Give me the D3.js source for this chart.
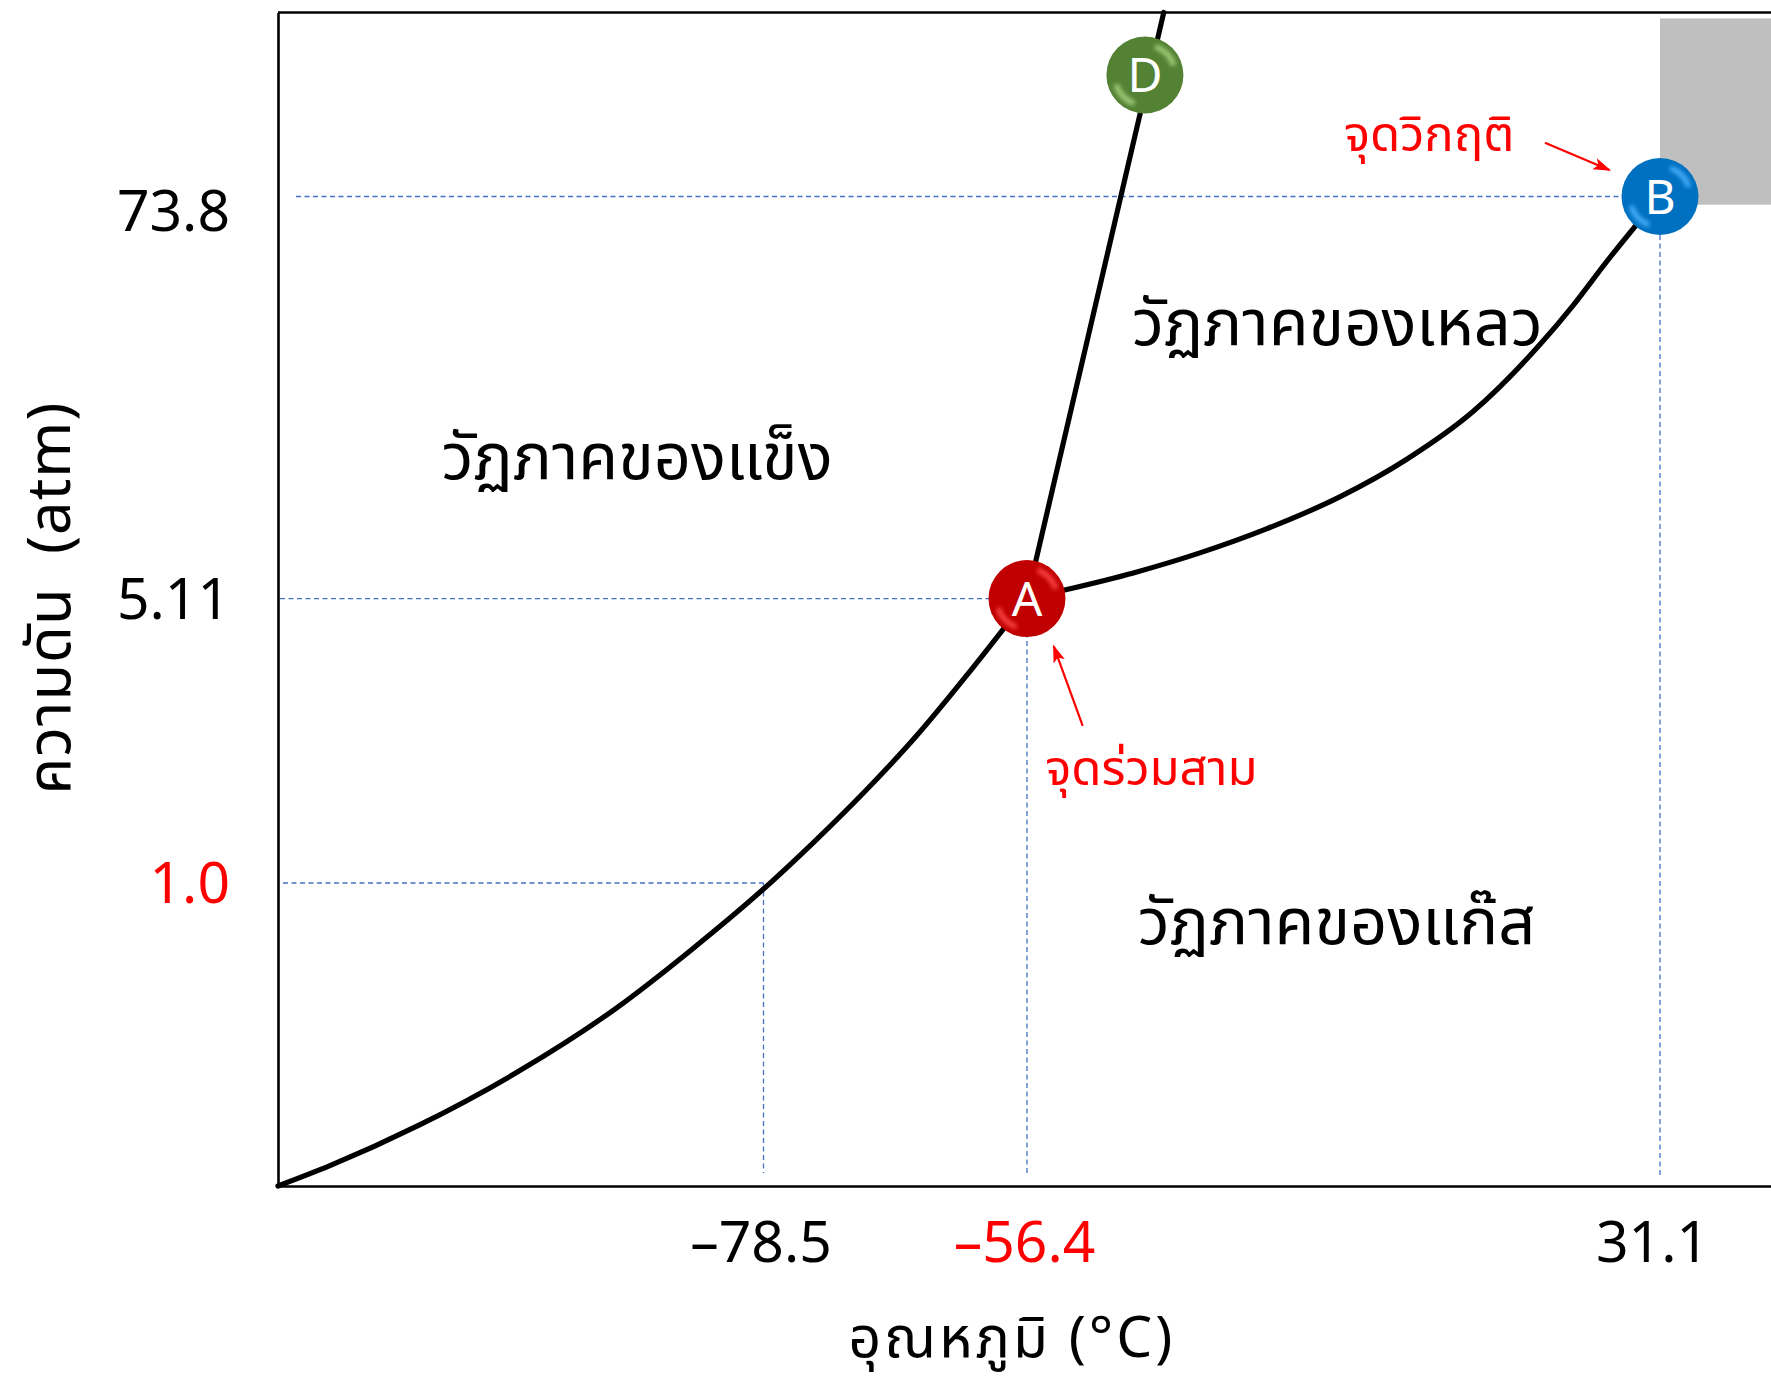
<!DOCTYPE html>
<html><head><meta charset="utf-8">
<script src="https://cdn.jsdelivr.net/npm/d3@7"></script>
<style>
body{margin:0;background:#fff}
svg{display:block}
text{font-family:"Noto Sans Thai","Noto Sans",sans-serif}
</style>
</head><body>
<svg id="chart" width="1771" height="1382"></svg>
<script>
// ---------- data ----------
const tempBreaks = [-100, -78.5, -56.4, 31.1, 46.5];
const pressBreaks = [0, 1.0, 5.11, 73.8, 105];
const tempTicks = [-78.5, -56.4, 31.1];
const tempTickLabels = ["–78.5", "–56.4", "31.1"];
const pressTicks = [1.0, 5.11, 73.8];
const pressTickLabels = ["1.0", "5.11", "73.8"];
const sublimationCurve = [[-100,0],[-97.7,0.067],[-93.8,0.199],[-89.4,0.376],[-85.0,0.588],[-81.7,0.779],[-78.5,0.98],[-74.1,1.62],[-69.9,2.34],[-65.7,3.12],[-61.6,3.97],[-56.4,5.11]];
const vaporCurve = [[-56.4,5.11],[-51.2,6.58],[-41.7,9.50],[-32.5,12.92],[-23.3,17.02],[-13.1,22.53],[-3.9,28.92],[5.3,37.11],[14.5,48.50],[19.1,55.21],[23.7,62.63],[31.1,73.8]];
const fusionLine = [[-56.4,5.11],[-37.5,105]];
const pointNames = ["A", "B", "D"];
const pointTemps = [-56.4, 31.1, -40.1];
const pointPress = [5.11, 73.8, 94.4];
const phaseNames = ["วัฏภาคของแข็ง", "วัฏภาคของเหลว", "วัฏภาคของแก๊ส"];
const phaseTemps = [-84.1, -13.5, -13.6];
const phasePress = [25.5, 48.4, 0.80];
const noteNames = ["จุดวิกฤติ", "จุดร่วมสาม"];
const noteTemps = [-0.8, -39.2];
const notePress = [81.45, 2.42];
const noteArrowFrom = [[15.2, 82.9], [-48.7, 3.27]];
const noteArrowTo = [[24.1, 78.3], [-52.7, 4.42]];
const superRegionT = [31.1, 46.5];
const superRegionP = [72.4, 104];
const xTitle = "อุณหภูมิ (°C)";
const yTitle = "ความดัน\u00a0\u00a0(atm)";

// ---------- layout ----------
const svg = d3.select("#chart");
const x = d3.scaleLinear().domain(tempBreaks).range([278, 763.5, 1027, 1660, 1771]);
const y = d3.scaleLinear().domain(pressBreaks).range([1186, 883, 598.6, 196.5, 12.5]);
const R = 38.5;
const pointColors = {A:"#c00000", B:"#0070c0", D:"#548235"};
const pointLight = {A:"#ff4a4a", B:"#4db3ff", D:"#a6d67e"};
const red = "#ff0000", guide = "#4472c4";

const defs = svg.append("defs");
defs.append("filter").attr("id","blur").append("feGaussianBlur").attr("stdDeviation",2.2);
defs.append("marker").attr("id","arr").attr("markerUnits","userSpaceOnUse")
  .attr("markerWidth",18).attr("markerHeight",14).attr("refX",16).attr("refY",7).attr("orient","auto")
  .append("path").attr("d","M0,1 L18,7 L0,13 L4,7 Z").attr("fill",red);

// supercritical grey block
svg.append("rect")
  .attr("x", x(superRegionT[0])).attr("y", y(superRegionP[1]))
  .attr("width", x(superRegionT[1]) - x(superRegionT[0]))
  .attr("height", y(superRegionP[0]) - y(superRegionP[1]))
  .attr("fill", "#bfbfbf");

// dashed guides
const g = svg.append("g").attr("stroke", guide).attr("stroke-width", 1.3).attr("stroke-dasharray", "5,3.5");
g.append("line").attr("x1", 296).attr("x2", x(31.1) - R).attr("y1", y(73.8)).attr("y2", y(73.8));
g.append("line").attr("x1", 280).attr("x2", x(-56.4)).attr("y1", y(5.11)).attr("y2", y(5.11));
g.append("line").attr("x1", 283).attr("x2", x(-78.5)).attr("y1", y(1.0)).attr("y2", y(1.0));
g.append("line").attr("x1", x(-78.5)).attr("x2", x(-78.5)).attr("y1", y(1.0)).attr("y2", 1173);
g.append("line").attr("x1", x(-56.4)).attr("x2", x(-56.4)).attr("y1", y(5.11)).attr("y2", 1175);
g.append("line").attr("x1", x(31.1)).attr("x2", x(31.1)).attr("y1", y(73.8) + R).attr("y2", 1175);

// axes
const tickFont = 57;
const xAxis = svg.append("g").attr("transform", "translate(0,1186)")
  .call(d3.axisBottom(x).tickValues(tempTicks).tickSize(0).tickSizeOuter(0).tickPadding(0)
    .tickFormat((d, i) => tempTickLabels[i]));
xAxis.select(".domain").attr("stroke", "#000").attr("stroke-width", 2.6);
xAxis.selectAll("text").attr("y", 76).attr("dy", 0).attr("font-size", tickFont)
  .attr("font-family", "'Noto Sans',sans-serif")
  .attr("fill", (d, i) => tempTickLabels[i] === "–56.4" ? red : "#000")
  .attr("dx", (d) => d === 31.1 ? -8 : -3);

const yAxis = svg.append("g").attr("transform", "translate(278,0)")
  .call(d3.axisLeft(y).tickValues(pressTicks).tickSize(0).tickSizeOuter(0).tickPadding(48)
    .tickFormat((d, i) => pressTickLabels[i]));
yAxis.select(".domain").attr("stroke", "#000").attr("stroke-width", 2.6);
yAxis.selectAll("text").attr("font-size", tickFont)
  .attr("font-family", "'Noto Sans',sans-serif")
  .attr("dy", d => d === 73.8 ? "0.6em" : "0.35em")
  .attr("fill", d => d === 1.0 ? red : "#000");

// top frame line
svg.append("line").attr("x1", 278).attr("x2", 1771).attr("y1", y(105)).attr("y2", y(105))
  .attr("stroke", "#000").attr("stroke-width", 2.6);

// phase boundary curves
const line = d3.line().x(d => x(d[0])).y(d => y(d[1])).curve(d3.curveMonotoneX);
[sublimationCurve, vaporCurve, fusionLine].forEach(c => {
  svg.append("path").attr("d", line(c)).attr("fill", "none").attr("stroke", "#000")
    .attr("stroke-width", 5.2).attr("stroke-linecap", "round");
});

// annotation arrows
noteArrowFrom.forEach((f, i) => {
  svg.append("line").attr("x1", x(f[0])).attr("y1", y(f[1]))
    .attr("x2", x(noteArrowTo[i][0])).attr("y2", y(noteArrowTo[i][1]))
    .attr("stroke", red).attr("stroke-width", 2.2).attr("marker-end", "url(#arr)");
});

// points
pointNames.forEach((n, i) => {
  const cx = x(pointTemps[i]), cy = y(pointPress[i]);
  const gp = svg.append("g").attr("transform", `translate(${cx},${cy})`);
  gp.append("circle").attr("r", R).attr("fill", pointColors[n]);
  const arc = d3.arc().innerRadius(R * 0.72).outerRadius(R * 0.86);
  gp.append("path").attr("d", arc({startAngle: 0.35, endAngle: 1.25})).attr("fill", pointLight[n])
    .attr("filter", "url(#blur)").attr("opacity", 0.9);
  gp.append("path").attr("d", arc({startAngle: 3.5, endAngle: 4.4})).attr("fill", pointLight[n])
    .attr("filter", "url(#blur)").attr("opacity", 0.9);
  gp.append("text").text(n).attr("text-anchor", "middle").attr("dy", "0.36em")
    .attr("font-size", 48).attr("fill", "#fff").attr("font-family", "'Noto Sans',sans-serif");
});

// phase labels
phaseNames.forEach((t, i) => {
  svg.append("text").text(t).attr("x", x(phaseTemps[i])).attr("y", y(phasePress[i]))
    .attr("text-anchor", "middle").attr("font-size", 65).attr("fill", "#000");
});

// red notes
noteNames.forEach((t, i) => {
  svg.append("text").text(t).attr("x", x(noteTemps[i])).attr("y", y(notePress[i]))
    .attr("text-anchor", "middle").attr("font-size", 49).attr("fill", red);
});

// axis titles
svg.append("text").text(xTitle).attr("x", 1012).attr("y", 1357)
  .attr("text-anchor", "middle").attr("font-size", 57).attr("letter-spacing", 3).attr("fill", "#000");
svg.append("text").text(yTitle).attr("transform", "translate(70,598) rotate(-90)")
  .attr("text-anchor", "middle").attr("font-size", 60).attr("letter-spacing", 1).attr("fill", "#000");
</script>
</body></html>
